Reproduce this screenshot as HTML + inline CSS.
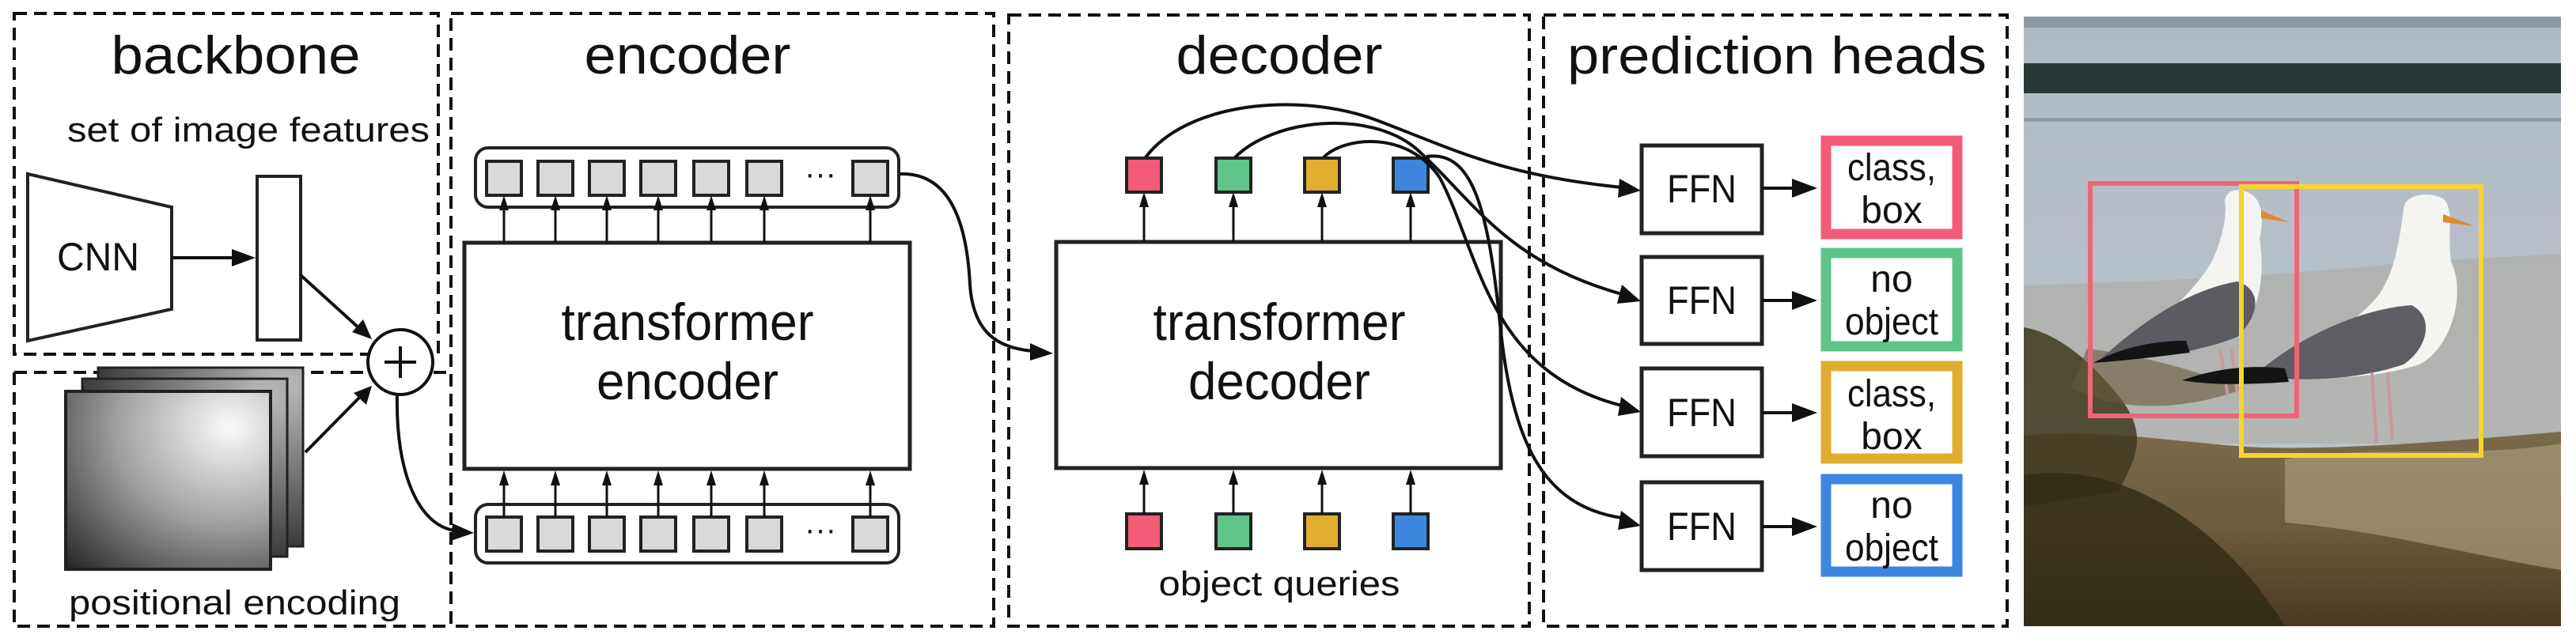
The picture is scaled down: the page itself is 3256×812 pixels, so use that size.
<!DOCTYPE html>
<html><head><meta charset="utf-8"><style>
html,body{margin:0;padding:0;background:#fff;}
svg{display:block;}
text{font-family:"Liberation Sans",Arial,sans-serif;fill:#111;}
</style></head><body>
<svg width="3256" height="812" viewBox="0 0 3256 812" xmlns="http://www.w3.org/2000/svg">
<defs>
<radialGradient id="pg" cx="0.8" cy="0.2" r="1.1">
<stop offset="0" stop-color="#fafafa"/><stop offset="0.5" stop-color="#a0a0a0"/><stop offset="1" stop-color="#2a2a2a"/>
</radialGradient>
<radialGradient id="pg2" cx="0.9" cy="0.1" r="1.2">
<stop offset="0" stop-color="#bbb"/><stop offset="0.6" stop-color="#555"/><stop offset="1" stop-color="#111"/>
</radialGradient>
<linearGradient id="rock" x1="0" y1="0" x2="0" y2="1">
<stop offset="0" stop-color="#7a6a4c"/><stop offset="0.5" stop-color="#6e5a3c"/><stop offset="1" stop-color="#4a3a22"/>
</linearGradient>
<linearGradient id="water" x1="0" y1="0" x2="0" y2="1">
<stop offset="0" stop-color="#b0bac4"/><stop offset="1" stop-color="#c0c8ce"/>
</linearGradient>
</defs>

<g fill="none" stroke="#111" stroke-width="4" stroke-dasharray="16 9">
<rect x="18" y="17" width="536" height="431"/>
<path d="M18 471 L464 471 M548 471 L568 471 M18 471 L18 792 L568 792"/>
<rect x="570" y="17" width="686" height="775"/>
<rect x="1275" y="19" width="658" height="773"/>
<rect x="1951" y="19" width="586" height="773"/>
</g>

<text x="298" y="93" font-size="68" text-anchor="middle" textLength="315" lengthAdjust="spacingAndGlyphs">backbone</text>
<text x="869" y="93" font-size="68" text-anchor="middle" textLength="261" lengthAdjust="spacingAndGlyphs">encoder</text>
<text x="1617" y="93" font-size="68" text-anchor="middle" textLength="261" lengthAdjust="spacingAndGlyphs">decoder</text>
<text x="2246" y="93" font-size="66" text-anchor="middle" textLength="530" lengthAdjust="spacingAndGlyphs">prediction heads</text>
<text x="85" y="179" font-size="44" textLength="458" lengthAdjust="spacingAndGlyphs">set of image features</text>
<text x="87" y="777" font-size="44" textLength="419" lengthAdjust="spacingAndGlyphs">positional encoding</text>
<text x="1617" y="753" font-size="44" text-anchor="middle" textLength="305" lengthAdjust="spacingAndGlyphs">object queries</text>

<polygon points="35,220 217,262 217,391 35,431" fill="#fff" stroke="#222" stroke-width="4"/>
<text x="124" y="342" font-size="50" text-anchor="middle" textLength="104" lengthAdjust="spacingAndGlyphs">CNN</text>
<line x1="217" y1="326" x2="296" y2="326" stroke="#111" stroke-width="4"/>
<polygon points="323,326 293,315 293,337" fill="#111"/>
<rect x="325" y="223" width="55" height="207" fill="#fff" stroke="#222" stroke-width="4"/>

<rect x="124" y="465" width="259" height="226" fill="url(#pg2)" stroke="#222" stroke-width="3"/>
<rect x="104" y="479" width="259" height="225" fill="url(#pg2)" stroke="#222" stroke-width="3"/>
<rect x="83" y="495" width="259" height="225" fill="url(#pg)" stroke="#222" stroke-width="4"/>

<circle cx="506" cy="458" r="41" fill="#fff" stroke="#111" stroke-width="4"/>
<path d="M506 438 V478 M486 458 H526" stroke="#111" stroke-width="4"/>
<line x1="380" y1="348" x2="455" y2="416" stroke="#111" stroke-width="4"/>
<polygon points="470,429 445,420 459,404" fill="#111"/>
<line x1="386" y1="572" x2="455" y2="502" stroke="#111" stroke-width="4"/>
<polygon points="470,488 463,512 447,497" fill="#111"/>
<path d="M502 500 C500 600 530 665 575 671" fill="none" stroke="#111" stroke-width="4"/>
<polygon points="599,674 572,662 570,684" fill="#111"/>

<rect x="601" y="187" width="535" height="75" rx="16" fill="#fff" stroke="#222" stroke-width="4"/>
<rect x="601" y="638" width="535" height="74" rx="16" fill="#fff" stroke="#222" stroke-width="4"/>
<g fill="#d9d9d9" stroke="#222" stroke-width="4">
<rect x="615" y="204" width="44" height="43"/><rect x="680" y="204" width="44" height="43"/><rect x="745" y="204" width="44" height="43"/><rect x="810" y="204" width="44" height="43"/><rect x="877" y="204" width="44" height="43"/><rect x="944" y="204" width="44" height="43"/><rect x="1078" y="204" width="44" height="43"/>
<rect x="615" y="654" width="44" height="43"/><rect x="680" y="654" width="44" height="43"/><rect x="745" y="654" width="44" height="43"/><rect x="810" y="654" width="44" height="43"/><rect x="877" y="654" width="44" height="43"/><rect x="944" y="654" width="44" height="43"/><rect x="1078" y="654" width="44" height="43"/>
</g>
<text x="1037" y="233" font-size="40" text-anchor="middle">···</text>
<text x="1037" y="683" font-size="40" text-anchor="middle">···</text>

<rect x="587" y="307" width="563" height="286" fill="#fff" stroke="#222" stroke-width="5"/>
<text x="869" y="430" font-size="66" text-anchor="middle" textLength="319" lengthAdjust="spacingAndGlyphs">transformer</text>
<text x="869" y="505" font-size="66" text-anchor="middle" textLength="230" lengthAdjust="spacingAndGlyphs">encoder</text>

<g stroke="#111" stroke-width="3" fill="none">
<path d="M637 307V262 M702 307V262 M767 307V262 M832 307V262 M899 307V262 M966 307V262 M1100 307V262"/>
<path d="M637 654V612 M702 654V612 M767 654V612 M832 654V612 M899 654V612 M966 654V612 M1100 654V612"/>
</g>
<g fill="#111">
<polygon points="637,247 631,266 643,266"/><polygon points="702,247 696,266 708,266"/><polygon points="767,247 761,266 773,266"/><polygon points="832,247 826,266 838,266"/><polygon points="899,247 893,266 905,266"/><polygon points="966,247 960,266 972,266"/><polygon points="1100,247 1094,266 1106,266"/>
<polygon points="637,595 631,614 643,614"/><polygon points="702,595 696,614 708,614"/><polygon points="767,595 761,614 773,614"/><polygon points="832,595 826,614 838,614"/><polygon points="899,595 893,614 905,614"/><polygon points="966,595 960,614 972,614"/><polygon points="1100,595 1094,614 1106,614"/>
</g>

<path d="M1138 220 C1200 218 1222 280 1226 360 C1230 420 1260 440 1305 444" fill="none" stroke="#111" stroke-width="4"/>
<polygon points="1331,447 1302,434 1302,456" fill="#111"/>

<rect x="1335" y="306" width="562" height="286" fill="#fff" stroke="#222" stroke-width="5"/>
<text x="1617" y="430" font-size="66" text-anchor="middle" textLength="319" lengthAdjust="spacingAndGlyphs">transformer</text>
<text x="1617" y="505" font-size="66" text-anchor="middle" textLength="230" lengthAdjust="spacingAndGlyphs">decoder</text>

<g stroke="#222" stroke-width="4">
<rect x="1424" y="200" width="44" height="43" fill="#f25c78"/>
<rect x="1537" y="200" width="44" height="43" fill="#5ec487"/>
<rect x="1649" y="200" width="44" height="43" fill="#e0ad30"/>
<rect x="1761" y="200" width="44" height="43" fill="#3d86e0"/>
<rect x="1424" y="650" width="44" height="44" fill="#f25c78"/>
<rect x="1537" y="650" width="44" height="44" fill="#5ec487"/>
<rect x="1649" y="650" width="44" height="44" fill="#e0ad30"/>
<rect x="1761" y="650" width="44" height="44" fill="#3d86e0"/>
</g>
<g stroke="#111" stroke-width="3">
<path d="M1446 306V258 M1559 306V258 M1671 306V258 M1783 306V258 M1446 650V608 M1559 650V608 M1671 650V608 M1783 650V608"/>
</g>
<g fill="#111">
<polygon points="1446,243 1440,262 1452,262"/><polygon points="1559,243 1553,262 1565,262"/><polygon points="1671,243 1665,262 1677,262"/><polygon points="1783,243 1777,262 1789,262"/>
<polygon points="1446,594 1440,613 1452,613"/><polygon points="1559,594 1553,613 1565,613"/><polygon points="1671,594 1665,613 1677,613"/><polygon points="1783,594 1777,613 1789,613"/>
</g>

<g fill="none" stroke="#111" stroke-width="4">
<path d="M1448 199 C1500 130 1640 115 1740 152 C1840 190 1900 222 2050 237"/>
<path d="M1561 199 C1610 150 1730 138 1790 188 C1860 250 1900 330 2050 372"/>
<path d="M1673 199 C1700 172 1780 165 1820 225 C1870 320 1880 470 2050 513"/>
<path d="M1803 198 C1860 190 1880 260 1895 400 C1910 560 1950 640 2050 655"/>
</g>
<g fill="#111">
<polygon points="2074,241 2047,226 2045,250"/>
<polygon points="2074,381 2050,360 2044,384"/>
<polygon points="2074,521 2049,502 2045,526"/>
<polygon points="2074,665 2049,646 2045,670"/>
</g>

<g stroke="#222" stroke-width="5" fill="#fff">
<rect x="2075" y="184" width="152" height="111"/>
<rect x="2075" y="325" width="152" height="110"/>
<rect x="2075" y="466" width="152" height="111"/>
<rect x="2075" y="610" width="152" height="111"/>
</g>
<g font-size="50" text-anchor="middle">
<text x="2151" y="256" textLength="88" lengthAdjust="spacingAndGlyphs">FFN</text>
<text x="2151" y="397" textLength="88" lengthAdjust="spacingAndGlyphs">FFN</text>
<text x="2151" y="539" textLength="88" lengthAdjust="spacingAndGlyphs">FFN</text>
<text x="2151" y="683" textLength="88" lengthAdjust="spacingAndGlyphs">FFN</text>
</g>
<g stroke="#111" stroke-width="4">
<path d="M2227 238H2270 M2227 380H2270 M2227 522H2270 M2227 666H2270"/>
</g>
<g fill="#111">
<polygon points="2297,238 2265,226 2265,250"/><polygon points="2297,380 2265,368 2265,392"/>
<polygon points="2297,522 2265,510 2265,534"/><polygon points="2297,666 2265,654 2265,678"/>
</g>
<g fill="#fff" stroke-width="13">
<rect x="2308" y="178" width="166" height="118" stroke="#f25c78"/>
<rect x="2308" y="320" width="166" height="118" stroke="#5ec487"/>
<rect x="2308" y="463" width="166" height="117" stroke="#e0ad30"/>
<rect x="2308" y="606" width="166" height="117" stroke="#3d86e0"/>
</g>
<g font-size="48" text-anchor="middle">
<text x="2391" y="228" textLength="112" lengthAdjust="spacingAndGlyphs">class,</text>
<text x="2391" y="282">box</text>
<text x="2391" y="369">no</text>
<text x="2391" y="423" textLength="118" lengthAdjust="spacingAndGlyphs">object</text>
<text x="2391" y="514" textLength="112" lengthAdjust="spacingAndGlyphs">class,</text>
<text x="2391" y="568">box</text>
<text x="2391" y="655">no</text>
<text x="2391" y="709" textLength="118" lengthAdjust="spacingAndGlyphs">object</text>
</g>

<g transform="translate(2558,21)">
<rect x="0" y="0" width="679" height="771" fill="url(#water)"/>
<rect x="0" y="0" width="679" height="14" fill="#8e9aa2"/>
<rect x="0" y="59" width="679" height="38" fill="#263836"/>
<rect x="0" y="128" width="679" height="5" fill="#7f8d94" opacity="0.7"/>
<path d="M0 340 C150 335 300 330 500 310 L679 300 L679 540 L0 540Z" fill="#a49a84" opacity="0.35"/>
<path d="M0 530 C100 520 200 540 300 545 C420 548 560 535 679 525 L679 771 L0 771Z" fill="url(#rock)"/>
<path d="M0 393 C40 400 80 430 120 480 C160 530 140 560 120 600 L0 620Z" fill="#3f3a1e" opacity="0.85"/>
<path d="M0 580 C120 560 250 640 330 771 L0 771Z" fill="#2f2a14" opacity="0.8"/>
<path d="M330 560 C450 540 560 560 679 540 L679 700 C560 680 450 650 330 640Z" fill="#a8987a" opacity="0.7"/>
<path d="M80 420 C160 430 220 450 280 470 C200 500 120 500 60 470Z" fill="#6a5a38" opacity="0.6"/>
<g transform="translate(0,25)">
<path d="M255 215 C250 195 270 190 285 198 C300 205 305 230 298 255 C305 300 300 360 260 380 C220 395 170 400 140 390 C170 360 220 320 240 280 C248 260 255 240 255 215Z" fill="#f3f3ef"/>
<path d="M95 410 C150 360 210 320 270 310 C300 320 300 350 270 380 C220 400 150 410 95 410Z" fill="#5a5c62"/>
<path d="M88 413 C120 395 160 385 205 385 L210 400 C170 405 130 410 88 413Z" fill="#141414"/>
<path d="M300 220 L335 235 L300 230Z" fill="#e08a2a"/>
<path d="M248 395 L258 455 M262 395 L270 450" stroke="#c8989a" stroke-width="4"/>
</g>
<g transform="translate(0,20)">
<path d="M480 225 C480 205 510 200 530 210 C545 225 535 250 540 290 C560 330 540 400 500 420 C440 440 360 440 300 430 C360 400 420 370 450 330 C470 300 475 260 480 225Z" fill="#f4f4f0"/>
<path d="M290 435 C340 390 420 350 490 345 C520 360 510 400 480 420 C420 440 350 442 290 435Z" fill="#5c5e64"/>
<path d="M200 440 C240 425 290 420 330 425 L335 442 C290 445 240 447 200 440Z" fill="#141414"/>
<path d="M530 230 L570 245 L530 240Z" fill="#e08a2a"/>
<path d="M440 430 L446 520 M460 430 L466 515" stroke="#c8989a" stroke-width="4"/>
</g>
</g>
<rect x="2642" y="232" width="261" height="294" fill="none" stroke="#f06478" stroke-width="6"/>
<rect x="2833" y="236" width="303" height="340" fill="none" stroke="#f5d430" stroke-width="6"/>
</svg>
</body></html>
